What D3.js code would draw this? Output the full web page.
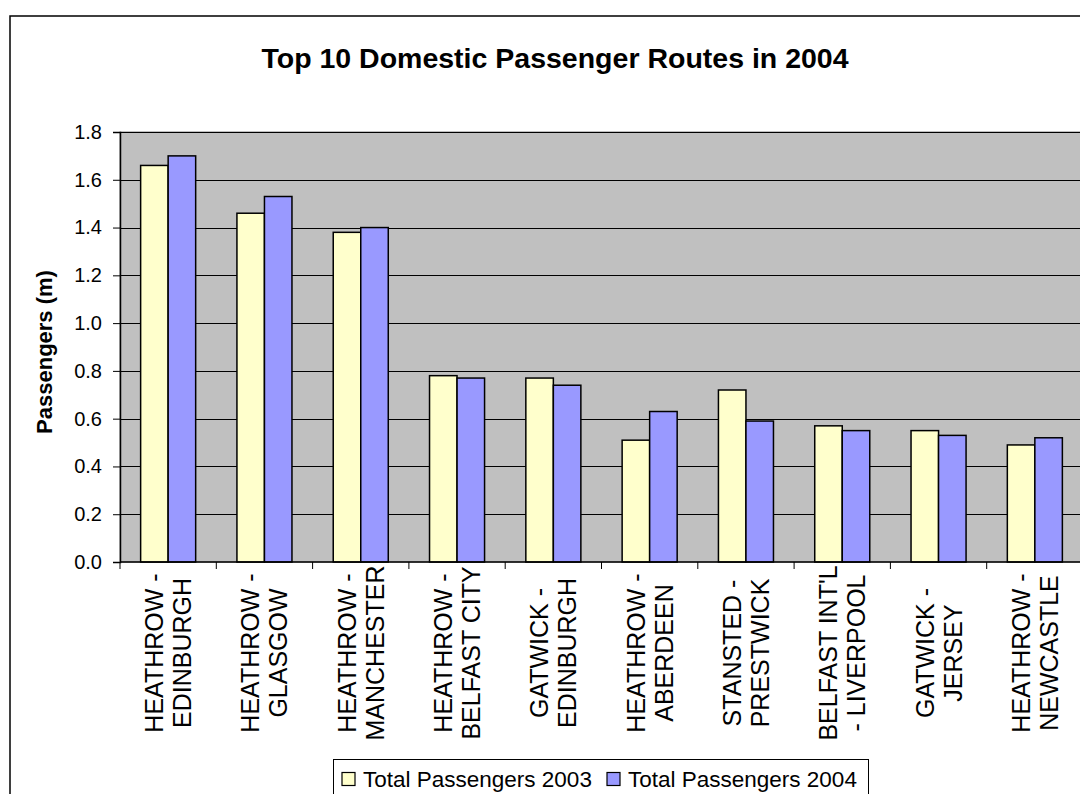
<!DOCTYPE html>
<html>
<head>
<meta charset="utf-8">
<script src="https://cdn.jsdelivr.net/npm/d3@7"></script>
<style>
  body { margin: 0; background: #fff; }
  text { font-family: Arial, "Liberation Sans", sans-serif; }
</style>
</head>
<body>
<div id="chart"></div>
<script>
var routes = [
  ["HEATHROW -", "EDINBURGH"],
  ["HEATHROW -", "GLASGOW"],
  ["HEATHROW -", "MANCHESTER"],
  ["HEATHROW -", "BELFAST CITY"],
  ["GATWICK -", "EDINBURGH"],
  ["HEATHROW -", "ABERDEEN"],
  ["STANSTED -", "PRESTWICK"],
  ["BELFAST INT'L", "- LIVERPOOL"],
  ["GATWICK -", "JERSEY"],
  ["HEATHROW -", "NEWCASTLE"]
];
var pax2003 = [1.66, 1.46, 1.38, 0.78, 0.77, 0.51, 0.72, 0.57, 0.55, 0.49];
var pax2004 = [1.70, 1.53, 1.40, 0.77, 0.74, 0.63, 0.59, 0.55, 0.53, 0.52];
var seriesNames = ["Total Passengers 2003", "Total Passengers 2004"];
var yTicks = [0, 0.2, 0.4, 0.6, 0.8, 1.0, 1.2, 1.4, 1.6, 1.8];

var width = 1080, height = 794;
var colors = ["#FFFFCC", "#9999FF"];

var svg = d3.select("#chart").append("svg").attr("width", width).attr("height", height);

// outer chart frame (runs off the right and bottom)
svg.append("rect").attr("x", 10).attr("y", 16).attr("width", 1100).attr("height", 800)
  .attr("fill", "#fff").attr("stroke", "#000").attr("stroke-width", 1.5);

var pLeft = 120, pTop = 132, pRight = 1083, pBottom = 562;

var x = d3.scaleBand().domain(d3.range(routes.length)).range([pLeft, pRight]).paddingInner(0).paddingOuter(0);
var bw = x.bandwidth() / 3.5; // gap width 150%
var y = d3.scaleLinear().domain([0, 1.8]).range([pBottom, pTop]);

// plot area
svg.append("rect").attr("x", pLeft).attr("y", pTop).attr("width", pRight - pLeft).attr("height", pBottom - pTop)
  .attr("fill", "#C0C0C0").attr("stroke", "#808080").attr("stroke-width", 1);

// gridlines
svg.append("g").selectAll("line").data(yTicks.slice(1)).enter().append("line")
  .attr("x1", pLeft).attr("x2", pRight)
  .attr("y1", function(d){ return Math.round(y(d)) + 0.5; })
  .attr("y2", function(d){ return Math.round(y(d)) + 0.5; })
  .attr("stroke", "#000").attr("stroke-width", 1);

// bars
var series = [pax2003, pax2004];
series.forEach(function(vals, s){
  svg.append("g").selectAll("rect").data(vals).enter().append("rect")
    .attr("x", function(d, i){ return x(i) + bw * 0.75 + s * bw; })
    .attr("y", function(d){ return y(d); })
    .attr("width", bw)
    .attr("height", function(d){ return pBottom - y(d); })
    .attr("fill", colors[s]).attr("stroke", "#000").attr("stroke-width", 1.5);
});

// y axis
var yAxis = d3.axisLeft(y).tickValues(yTicks).tickSize(7).tickPadding(11)
  .tickFormat(d3.format(".1f"));
var ya = svg.append("g").attr("transform", "translate(" + pLeft + ",0)").call(yAxis);
ya.select(".domain").attr("stroke", "#000").attr("stroke-width", 1.5);
ya.selectAll(".tick line").attr("stroke", "#000");
ya.selectAll("text").attr("font-size", 20).attr("fill", "#000")
  .style("font-family", "Arial, 'Liberation Sans', sans-serif");

// x axis line and ticks between categories
svg.append("line").attr("x1", pLeft).attr("x2", pRight).attr("y1", pBottom).attr("y2", pBottom)
  .attr("stroke", "#000").attr("stroke-width", 1.5);
svg.append("g").selectAll("line").data(d3.range(routes.length + 1)).enter().append("line")
  .attr("x1", function(i){ return pLeft + i * x.step(); })
  .attr("x2", function(i){ return pLeft + i * x.step(); })
  .attr("y1", pBottom).attr("y2", pBottom + 7)
  .attr("stroke", "#000").attr("stroke-width", 1);

// category labels, rotated
var cat = svg.append("g").selectAll("g").data(routes).enter().append("g")
  .attr("transform", function(d, i){ return "translate(" + (x(i) + x.bandwidth() / 2) + ",653) rotate(-90)"; });
cat.selectAll("text").data(function(d){ return d; }).enter().append("text")
  .attr("x", 0)
  .attr("y", function(d, j){ return (j === 0 ? -14 : 14) + 9; })
  .attr("text-anchor", "middle")
  .attr("font-size", 25)
  .text(function(d){ return d; });

// title
svg.append("text").attr("x", 555).attr("y", 68).attr("text-anchor", "middle")
  .attr("font-size", 28.5).attr("font-weight", "bold").text("Top 10 Domestic Passenger Routes in 2004");

// y label
svg.append("text").attr("transform", "translate(52,352) rotate(-90)").attr("text-anchor", "middle")
  .attr("font-size", 22).attr("font-weight", "bold").text("Passengers (m)");

// legend
var lg = svg.append("g");
lg.append("rect").attr("x", 333.5).attr("y", 759.5).attr("width", 535).attr("height", 60)
  .attr("fill", "#fff").attr("stroke", "#000").attr("stroke-width", 1);
var lx = [342, 607];
seriesNames.forEach(function(n, s){
  lg.append("rect").attr("x", lx[s]).attr("y", 772.5).attr("width", 13).attr("height", 13)
    .attr("fill", colors[s]).attr("stroke", "#000").attr("stroke-width", 1.2);
  lg.append("text").attr("x", lx[s] + 21).attr("y", 787).attr("font-size", 22.5).text(n);
});
</script>
</body>
</html>
